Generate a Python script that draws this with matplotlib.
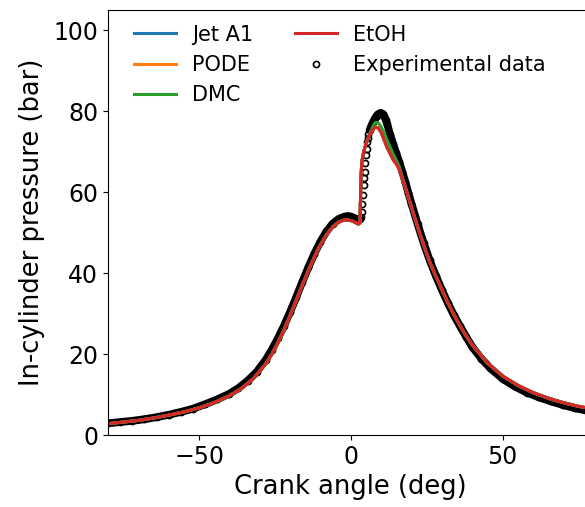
import numpy as np
import matplotlib
matplotlib.use('Agg')
import matplotlib.pyplot as plt

# crank angle grid for the simulated traces (deg)
sim_angle = [-80, -75, -70, -65, -60, -55, -50, -45, -40, -36, -32, -28, -26, -24,
             -22, -20, -18, -16, -14, -12, -10, -8, -6, -4, -2, 0, 1, 2, 2.5, 3.0,
             3.2, 3.4, 3.7, 4.2, 5, 6, 7, 8, 9, 10, 11, 12, 13, 14, 15, 16, 18, 20,
             22, 24, 26, 28, 30, 32, 34, 36, 38, 40, 45, 50, 55, 60, 65, 70, 75, 80]

etoh = [2.8, 3.2, 3.6, 4.2, 4.9, 5.7, 6.7, 8.0, 9.7, 11.5, 14.0, 17.6, 20.0, 22.8,
        26.0, 29.5, 33.2, 37.0, 40.6, 44.0, 47.0, 49.5, 51.4, 52.6, 53.2, 53.0, 52.7,
        52.3, 52.1, 52.4, 58.0, 64.5, 67.8, 69.8, 72.0, 73.9, 75.2, 76.1, 75.9, 74.8,
        72.9, 71.0, 69.5, 68.0, 67.0, 65.6, 61.2, 56.3, 51.5, 47.0, 42.8, 39.3, 36.0,
        32.7, 29.7, 27.0, 24.5, 22.3, 17.8, 14.6, 12.3, 10.5, 9.1, 8.0, 7.1, 6.4]

dmc = [2.8, 3.2, 3.6, 4.2, 4.9, 5.7, 6.7, 8.0, 9.7, 11.5, 14.0, 17.6, 20.0, 22.8,
       26.0, 29.5, 33.2, 37.0, 40.6, 44.0, 47.0, 49.5, 51.4, 52.6, 53.2, 53.0, 52.7,
       52.3, 52.1, 52.4, 58.0, 64.5, 67.8, 69.8, 72.0, 73.9, 75.8, 77.2, 77.2, 76.2,
       74.6, 72.8, 71.1, 69.4, 67.9, 66.3, 61.2, 56.3, 51.5, 47.0, 42.8, 39.3, 36.0,
       32.7, 29.7, 27.0, 24.5, 22.3, 17.8, 14.6, 12.3, 10.5, 9.1, 8.0, 7.1, 6.4]

# Jet A1 and PODE lie underneath the EtOH trace in the picture
jet_a1 = list(etoh)
pode = list(etoh)

# experimental pressure trace
exp_angle = [-80, -76, -72, -68, -64, -60, -56, -52, -48, -44, -40, -37, -34, -31,
             -28, -26, -24, -22, -20, -18, -16, -14, -12, -10, -8, -6, -4, -2, -1,
             0, 1, 2, 2.5, 3, 3.4, 3.6, 3.8, 4.0, 4.2, 4.4, 4.6, 4.8, 5.0, 5.2, 5.4,
             5.6, 5.8, 6.2, 6.6, 7, 7.5, 8, 8.5, 9, 9.5, 10, 10.5, 11, 11.5, 12, 13,
             14, 15, 16, 17, 18, 19, 20, 22, 24, 26, 28, 30, 32, 34, 36, 38, 40, 43,
             46, 50, 54, 58, 62, 66, 70, 74, 78, 80]
exp_p = [2.9, 3.2, 3.5, 3.9, 4.4, 5.0, 5.7, 6.5, 7.6, 8.8, 10.2, 11.6, 13.4, 15.6,
         18.6, 21.1, 23.9, 27.0, 30.4, 34.0, 37.8, 41.4, 44.8, 47.8, 50.3, 52.2, 53.4,
         54.0, 54.1, 54.0, 53.7, 53.3, 53.2, 53.5, 54.0, 55.1, 57.2, 59.4, 61.7, 63.4,
         65.0, 67.1, 69.1, 70.8, 72.4, 73.5, 74.3, 75.3, 76.1, 76.8, 77.6, 78.3, 78.9,
         79.3, 79.5, 79.6, 79.4, 78.8, 77.9, 76.8, 74.2, 71.8, 69.6, 67.4, 65.0, 62.5,
         59.8, 57.2, 52.2, 47.5, 43.2, 39.4, 35.9, 32.6, 29.6, 26.9, 24.3, 21.8, 18.9,
         16.5, 13.9, 12.0, 10.5, 9.3, 8.3, 7.4, 6.6, 6.0, 5.7]

fig = plt.figure(figsize=(5.85, 5.07), dpi=100)
ax = fig.add_axes([0.1846, 0.142, 0.830, 0.838])

# the measured markers overlap into a solid band; draw that band from the same data
ea = np.array(exp_angle)
band = np.where((ea > 3.3) & (ea < 6.0), np.nan, np.array(exp_p))
ax.plot(ea, band, color='k', lw=5.6, solid_capstyle='round', zorder=1)
ax.plot(exp_angle, exp_p, 'o', ms=4.4, mfc='none', mec='k', mew=1.2, zorder=1,
        label='Experimental data')

ax.plot(sim_angle, jet_a1, color='#1f77b4', lw=2.2, label='Jet A1', zorder=2)
ax.plot(sim_angle, pode, color='#ff7f0e', lw=2.2, label='PODE', zorder=2)
ax.plot(sim_angle, dmc, color='#2ca02c', lw=2.2, label='DMC', zorder=2)
ax.plot(sim_angle, etoh, color='#d62728', lw=2.2, label='EtOH', zorder=2)

ax.set_xlim(-80, 80)
ax.set_ylim(0, 105)
ax.set_xticks([-50, 0, 50])
ax.set_yticks([0, 20, 40, 60, 80, 100])
ax.tick_params(labelsize=17)
ax.set_xlabel('Crank angle (deg)', fontsize=18.5)
ax.set_ylabel('In-cylinder pressure (bar)', fontsize=18.5, labelpad=6)

h, l = ax.get_legend_handles_labels()
order = [1, 2, 3, 4, 0]
ax.legend([h[i] for i in order], [l[i] for i in order], ncol=2, frameon=False,
          fontsize=15, loc='upper left', bbox_to_anchor=(0.015, 1.01))

fig.savefig('out.png', dpi=100)
